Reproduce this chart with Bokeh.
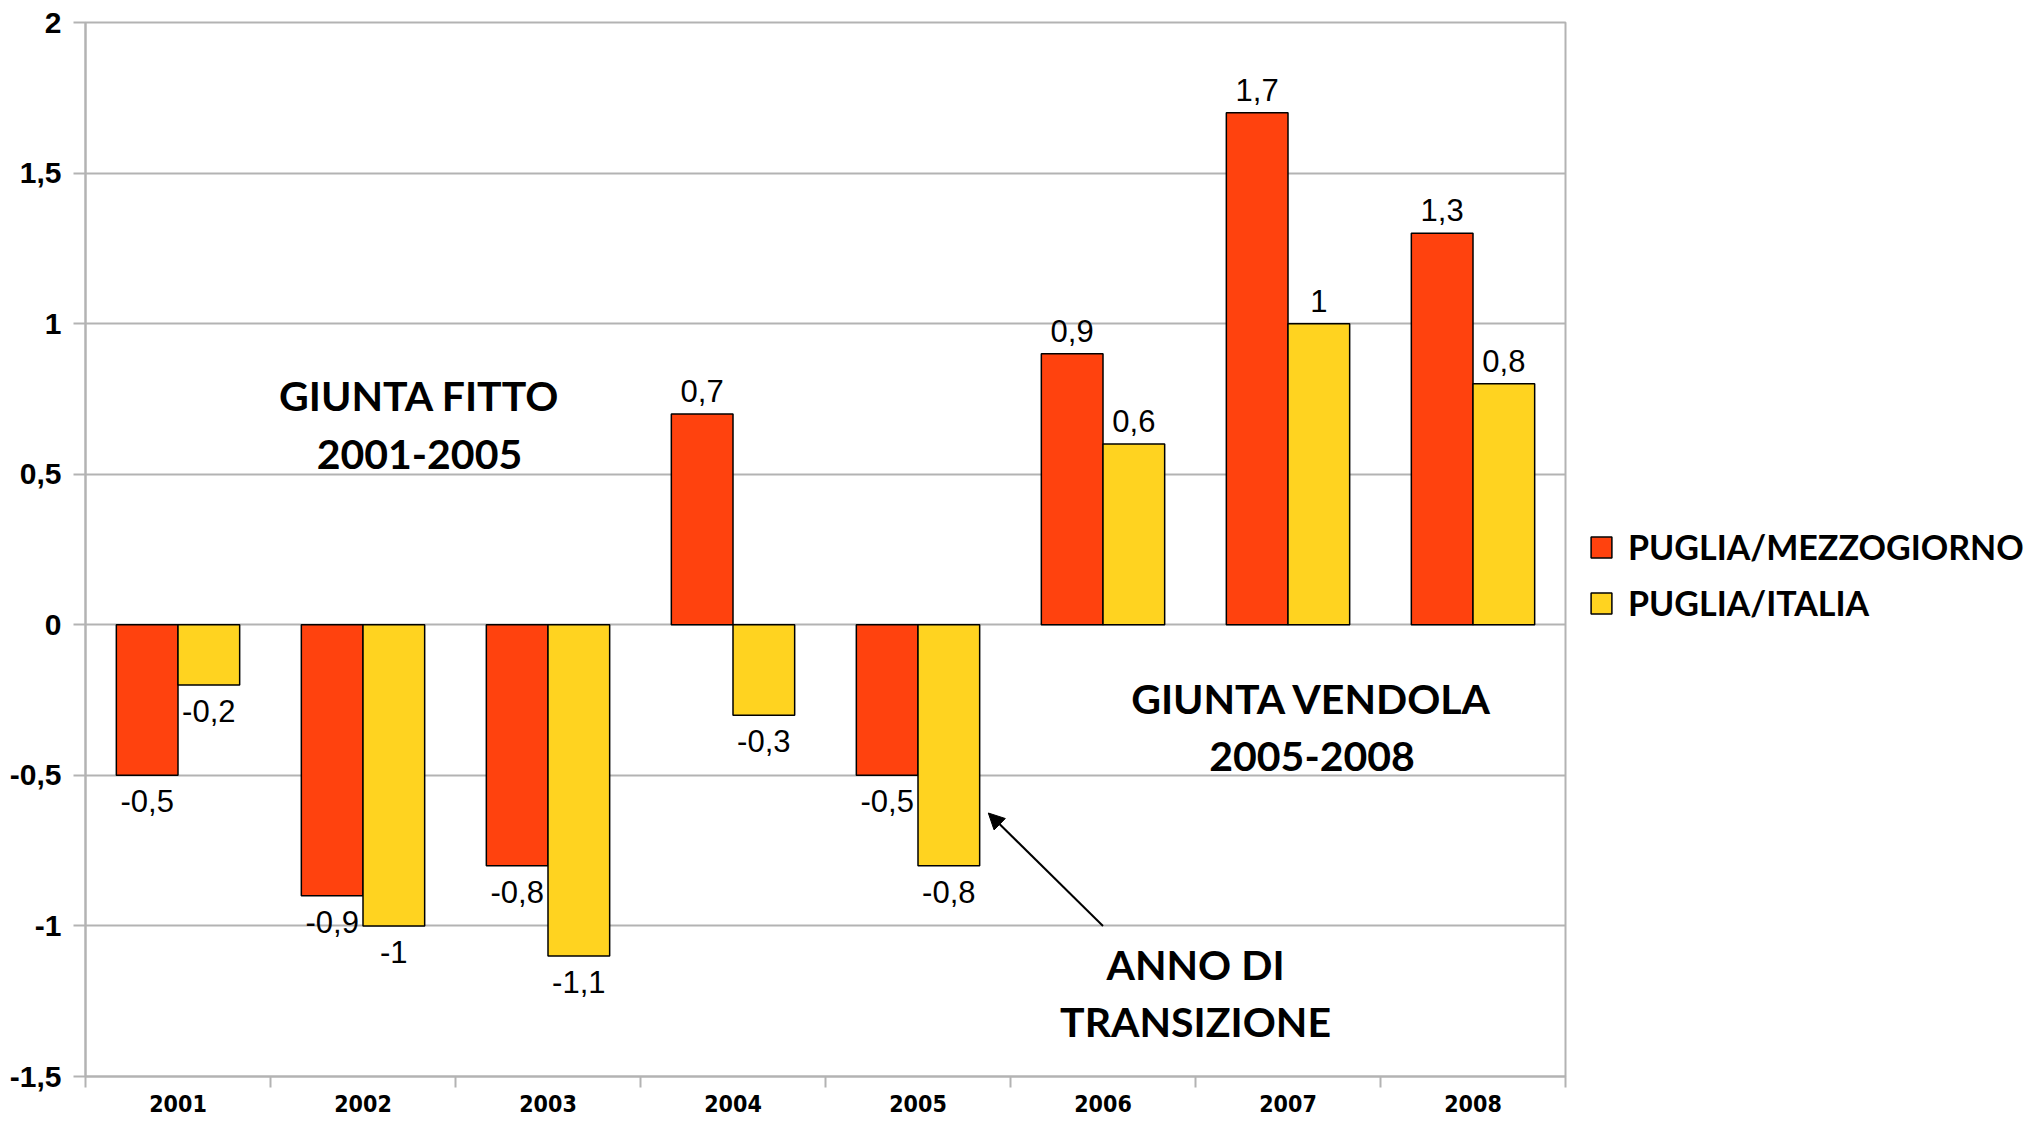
from bokeh.plotting import figure
from bokeh.models import (ColumnDataSource, FixedTicker, Legend, LegendItem,
                          Arrow, NormalHead, Label, Range1d)
from bokeh.transform import dodge
from bokeh.embed import file_html
from bokeh.resources import INLINE
from bokeh.core.properties import value

# ---- data ----
years = ["2001", "2002", "2003", "2004", "2005", "2006", "2007", "2008"]
puglia_mezzogiorno = [-0.5, -0.9, -0.8, 0.7, -0.5, 0.9, 1.7, 1.3]
puglia_italia = [-0.2, -1.0, -1.1, -0.3, -0.8, 0.6, 1.0, 0.8]
y_ticks = [2, 1.5, 1, 0.5, 0, -0.5, -1, -1.5]
y_tick_labels = ["2", "1,5", "1", "0,5", "0", "-0,5", "-1", "-1,5"]
series_names = ["PUGLIA/MEZZOGIORNO", "PUGLIA/ITALIA"]

RED = "#FF420E"
YELLOW = "#FFD320"
GRID = "#b3b3b3"

def fmt(v):
    return f"{v:g}".replace(".", ",")

n = len(years)
xc = [i + 0.5 for i in range(n)]
src = ColumnDataSource(dict(
    x=xc,
    m=puglia_mezzogiorno,
    i=puglia_italia,
    m_lab=[fmt(v) for v in puglia_mezzogiorno],
    i_lab=[fmt(v) for v in puglia_italia],
    m_base=["bottom" if v >= 0 else "top" for v in puglia_mezzogiorno],
    i_base=["bottom" if v >= 0 else "top" for v in puglia_italia],
    m_off=[-12 if v >= 0 else 15 for v in puglia_mezzogiorno],
    i_off=[-12 if v >= 0 else 15 for v in puglia_italia],
))

p = figure(frame_width=1480, frame_height=1054, output_backend="svg",
           toolbar_location=None,
           x_range=Range1d(0, n), y_range=Range1d(min(y_ticks), max(y_ticks)),
           min_border_left=85, min_border_right=0, min_border_top=22,
           min_border_bottom=44)
p.outline_line_color = GRID
p.outline_line_width = 2
p.background_fill_color = "white"
p.border_fill_color = "white"

bw = 1 / 3
r1 = p.vbar(x=dodge("x", -bw / 2), top="m", bottom=0, width=bw, source=src,
            fill_color=RED, line_color="black", line_width=1.5)
r2 = p.vbar(x=dodge("x", bw / 2), top="i", bottom=0, width=bw, source=src,
            fill_color=YELLOW, line_color="black", line_width=1.5)

lab_font = value("Liberation Sans")
p.text(x=dodge("x", -bw / 2), y="m", text="m_lab", source=src,
       text_align="center", text_baseline="m_base", y_offset="m_off",
       text_font_size="31px", text_color="black", text_font=lab_font)
p.text(x=dodge("x", bw / 2), y="i", text="i_lab", source=src,
       text_align="center", text_baseline="i_base", y_offset="i_off",
       text_font_size="31px", text_color="black", text_font=lab_font)

# ---- axes ----
p.xgrid.visible = False
p.ygrid.ticker = FixedTicker(ticks=y_ticks)
p.ygrid.grid_line_color = GRID
p.ygrid.grid_line_width = 2

xa = p.xaxis[0]
xa.ticker = FixedTicker(ticks=xc, minor_ticks=list(range(n + 1)))
xa.major_label_overrides = {x: y for x, y in zip(xc, years)}
xa.major_tick_out = 0
xa.major_tick_in = 0
xa.minor_tick_out = 11
xa.minor_tick_in = 0
xa.minor_tick_line_color = GRID
xa.minor_tick_line_width = 2
xa.axis_line_color = GRID
xa.axis_line_width = 2
xa.major_label_standoff = 7
xa.major_label_text_font = "'Liberation Sans Narrow', 'DejaVu Sans Condensed', sans-serif"
xa.major_label_text_font_style = "bold"
xa.major_label_text_font_size = "23px"
xa.major_label_text_color = "black"

ya = p.yaxis[0]
ya.ticker = FixedTicker(ticks=y_ticks, minor_ticks=[])
ya.major_label_overrides = {t: l for t, l in zip(y_ticks, y_tick_labels)}
ya.major_tick_out = 12
ya.major_tick_in = 0
ya.major_tick_line_color = GRID
ya.major_tick_line_width = 2
ya.minor_tick_out = 0
ya.axis_line_color = GRID
ya.axis_line_width = 2
ya.major_label_standoff = 12
ya.major_label_text_font = "Liberation Sans"
ya.major_label_text_font_style = "bold"
ya.major_label_text_font_size = "30px"
ya.major_label_text_color = "black"

# ---- annotations ----
ann = dict(text_font="Lato", text_font_style="bold", text_font_size="41px",
           text_color="black", text_align="center", text_baseline="middle")
for txt, x, y in [("GIUNTA FITTO", 1.805, 0.76), ("2001-2005", 1.805, 0.565),
                  ("GIUNTA VENDOLA", 6.63, -0.245), ("2005-2008", 6.63, -0.438),
                  ("ANNO DI", 6.0, -1.128), ("TRANSIZIONE", 6.0, -1.318)]:
    p.add_layout(Label(x=x, y=y, text=txt, **ann))

p.add_layout(Arrow(end=NormalHead(size=16, fill_color="black", line_color="black"),
                   x_start=5.5, y_start=-1.0, x_end=4.88, y_end=-0.625,
                   line_color="black", line_width=2))

# ---- legend ----
legend = Legend(items=[LegendItem(label=series_names[0], renderers=[r1]),
                       LegendItem(label=series_names[1], renderers=[r2])],
                location=(23, 453), orientation="vertical",
                glyph_width=26, glyph_height=26,
                label_text_font="Lato", label_text_font_style="bold",
                label_text_font_size="34px", label_text_color="black",
                label_standoff=14, spacing=15, padding=0, margin=0,
                border_line_color=None, background_fill_alpha=0)
p.add_layout(legend, "right")

open("out.html", "w").write(file_html(p, INLINE))
